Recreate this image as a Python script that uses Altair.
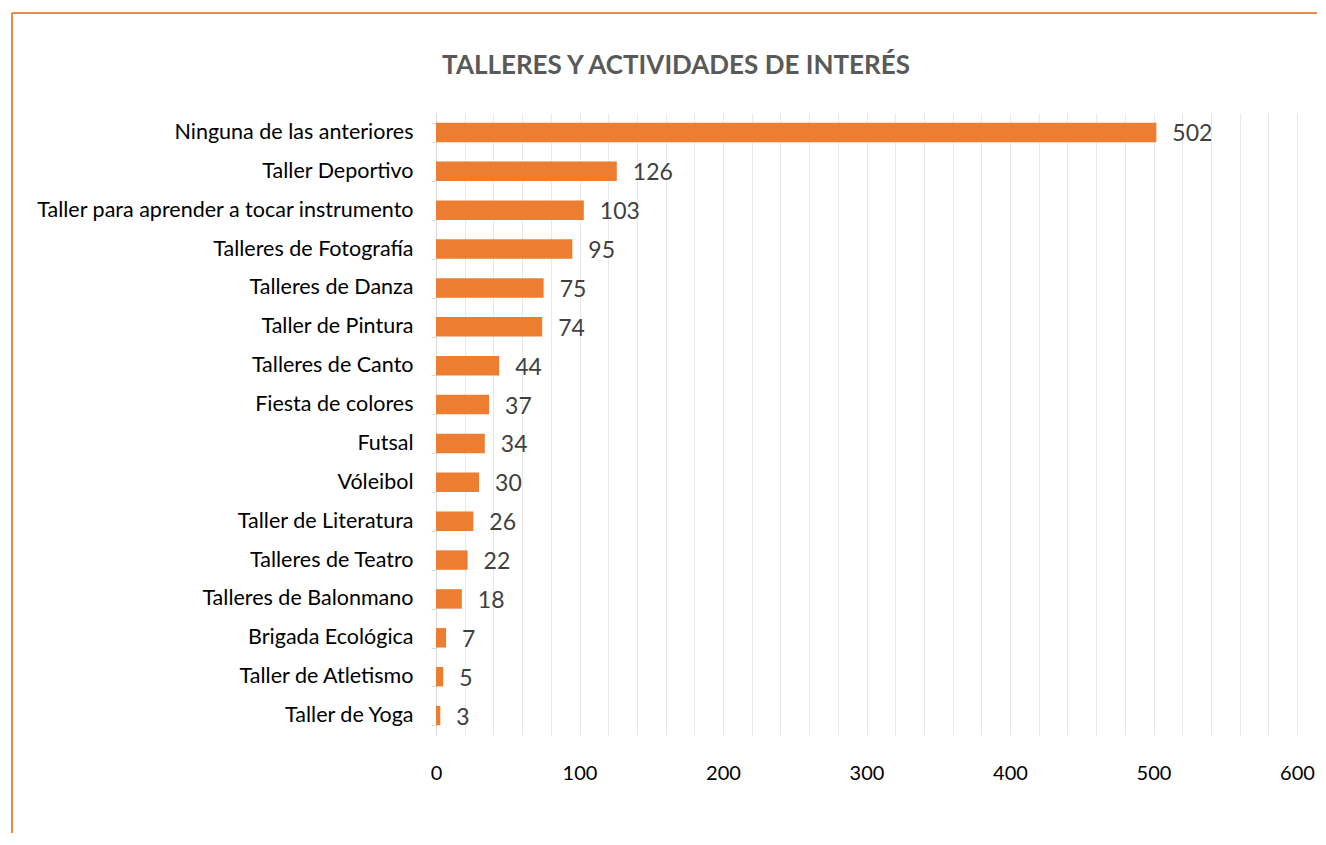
import altair as alt
import pandas as pd

categories = [
    "Ninguna de las anteriores", "Taller Deportivo",
    "Taller para aprender a tocar instrumento", "Talleres de Fotografía",
    "Talleres de Danza", "Taller de Pintura", "Talleres de Canto",
    "Fiesta de colores", "Futsal", "Vóleibol", "Taller de Literatura",
    "Talleres de Teatro", "Talleres de Balonmano", "Brigada Ecológica",
    "Taller de Atletismo", "Taller de Yoga",
]
values = [502, 126, 103, 95, 75, 74, 44, 37, 34, 30, 26, 22, 18, 7, 5, 3]
x_ticks = list(range(0, 620, 20))
title_text = "TALLERES Y ACTIVIDADES DE INTERÉS"

df = pd.DataFrame({"cat": categories, "val": values})

FONT = "Lato"
W, H = 861, 622

y_enc = alt.Y("cat:N", sort=categories, title=None,
              scale=alt.Scale(paddingInner=0.5, paddingOuter=0.25),
              axis=alt.Axis(labelFont=FONT, labelFontSize=21.5, labelColor="#000000",
                            labelPadding=18, domainColor="#d9d9d9", tickColor="#d9d9d9",
                            tickSize=5, tickBand="extent", labelLimit=500))
x_enc = alt.X("val:Q", title=None, scale=alt.Scale(domain=[0, 600], nice=False),
              axis=alt.Axis(values=x_ticks, labelExpr="datum.value % 100 == 0 ? datum.label : ''",
                            labelOverlap=False, labelFlush=False,
                            grid=True, gridColor="#e8e8e8", gridWidth=1, domain=False,
                            ticks=False, labelFont=FONT, labelFontSize=20,
                            labelColor="#000000", labelPadding=28))

bars = alt.Chart(df).mark_bar(color="#ED7D31").encode(x=x_enc, y=y_enc)
labels = alt.Chart(df).mark_text(align="left", dx=16, dy=2, font=FONT, fontSize=23,
                                 color="#404040", baseline="middle").encode(
    x=x_enc, y=y_enc, text="val:Q")

title = alt.Chart(pd.DataFrame({"t": [title_text]})).mark_text(
    font=FONT, fontSize=26, fontWeight="bold", color="#595959",
    align="center", baseline="alphabetic", clip=False).encode(
    x=alt.value(240), y=alt.value(-39), text="t:N")

frame_top = alt.Chart(df).mark_rule(color="#EE8A45", strokeWidth=1.5, clip=False).encode(
    x=alt.value(-424), x2=alt.value(900), y=alt.value(-100))
frame_left = alt.Chart(df).mark_rule(color="#EE8A45", strokeWidth=1.5, clip=False).encode(
    x=alt.value(-424), y=alt.value(-100), y2=alt.value(760))

chart = alt.layer(bars, labels, title, frame_top, frame_left).properties(
    width=W, height=H,
    padding={"left": 428, "top": 105, "right": 20, "bottom": 98},
    autosize=alt.AutoSizeParams(type="none"),
).configure_view(stroke=None)

chart.save("out.html", embed_options={"renderer": "svg", "actions": False})
